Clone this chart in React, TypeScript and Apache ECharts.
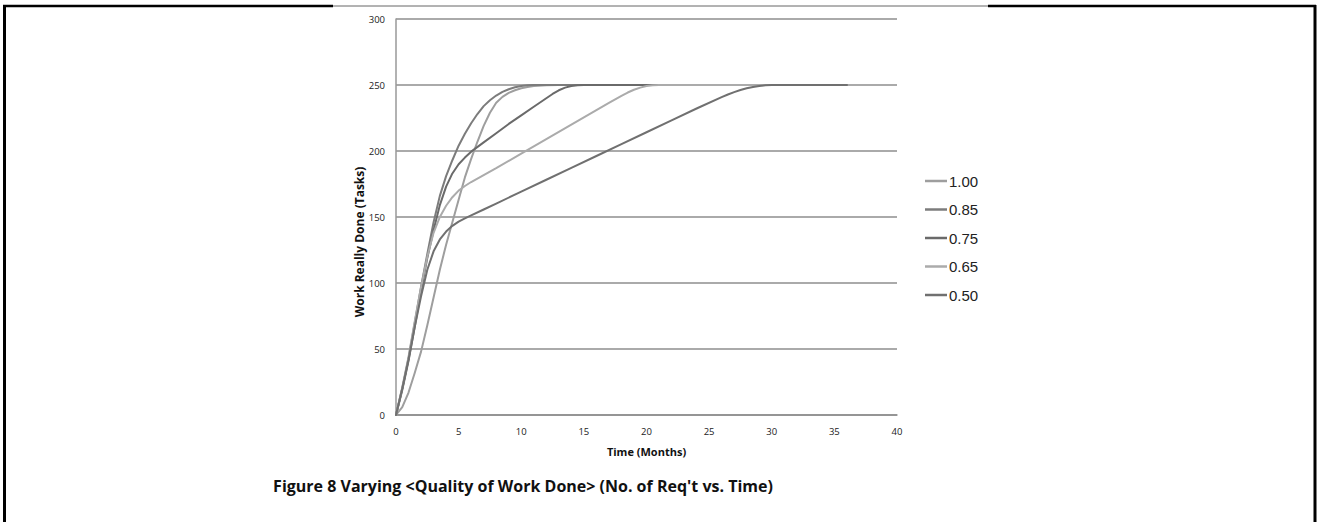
import React, { useEffect, useRef } from "react";
import * as echarts from "echarts";

// Time (months) / Work really done (tasks)
const q100: [number, number][] = [
  [0, 0], [0.5, 6], [1, 17], [1.5, 32], [2, 48], [2.5, 68], [3, 89], [3.5, 110],
  [4, 129], [4.5, 146], [5, 163], [5.5, 180], [6, 194], [6.5, 207], [7, 219],
  [7.5, 229], [8, 236.5], [8.5, 241], [9, 244], [9.5, 246], [10, 247.5], [10.5, 248.5],
  [11, 249.2], [12, 249.8], [13, 250], [36, 250],
];
const q085: [number, number][] = [
  [0, 0], [0.5, 20], [1, 43], [1.5, 70], [2, 97], [2.5, 122], [3, 146], [3.5, 166],
  [4, 181], [4.5, 193], [5, 204], [5.5, 213], [6, 221], [6.5, 228], [7, 234],
  [7.5, 238.5], [8, 242], [8.5, 244.8], [9, 246.8], [9.5, 248.3], [10, 249.3],
  [10.5, 249.8], [11, 250], [36, 250],
];
const q075: [number, number][] = [
  [0, 0], [0.5, 19], [1, 41], [1.5, 67], [2, 94], [2.5, 119], [3, 140], [3.5, 159],
  [4, 173], [4.5, 183], [5, 190], [5.5, 195], [6, 199.5], [7, 206.5], [8, 213.5],
  [9, 220.5], [10, 227], [11, 233.5], [12, 240], [12.5, 243.2], [13, 246], [13.5, 248],
  [14, 249.3], [14.5, 249.8], [15, 250], [36, 250],
];
const q065: [number, number][] = [
  [0, 0], [0.5, 21], [1, 44], [1.5, 71], [2, 97], [2.5, 120], [3, 138], [3.5, 150],
  [4, 158.5], [4.5, 165], [5, 170], [5.5, 173.5], [6, 176.5], [7, 181.8], [8, 187],
  [10, 198], [12, 209], [14, 220], [16, 231], [17, 236.5], [18, 241.8], [18.5, 244.3],
  [19, 246.4], [19.5, 248], [20, 249.2], [20.5, 249.8], [21, 250], [36, 250],
];
const q050: [number, number][] = [
  [0, 0], [0.5, 20], [1, 42], [1.5, 67], [2, 90], [2.5, 110], [3, 124], [3.5, 133],
  [4, 139], [4.5, 143.3], [5, 146.5], [5.5, 149], [6, 151.2], [7, 155.7], [8, 160.2],
  [10, 169.2], [12, 178.2], [14, 187.2], [16, 196.2], [18, 205.2], [20, 214.2],
  [22, 223.2], [24, 232.2], [26, 240.8], [26.5, 242.8], [27, 244.6], [27.5, 246.2],
  [28, 247.5], [28.5, 248.5], [29, 249.3], [29.5, 249.8], [30, 250], [36, 250],
];

const seriesNames = ["1.00", "0.85", "0.75", "0.65", "0.50"];
const seriesData = [q100, q085, q075, q065, q050];
const seriesColors = ["#9e9e9e", "#7c7c7c", "#6a6a6a", "#ababab", "#707070"];

const chartTitle = "Figure 8 Varying <Quality of Work Done> (No. of Req't vs. Time)";
const xTitle = "Time (Months)";
const yTitle = "Work Really Done (Tasks)";

export default function App() {
  const ref = useRef<HTMLDivElement>(null);
  useEffect(() => {
    if (!ref.current) return;
    const chart = echarts.init(ref.current, undefined, { renderer: "svg" });
    const axisFont = "'Open Sans', sans-serif";
    chart.setOption({
      animation: false,
      backgroundColor: "#ffffff",
      grid: { left: 396, right: 422, top: 19, bottom: 107, containLabel: false },
      xAxis: {
        type: "value",
        min: 0,
        max: 40,
        interval: 5,
        name: xTitle,
        nameLocation: "middle",
        nameGap: 31,
        nameTextStyle: { fontFamily: axisFont, fontWeight: "bold", fontSize: 11, color: "#111" },
        axisLine: { show: true, lineStyle: { color: "#8e8e8e", width: 1.5 } },
        axisTick: { show: false },
        axisLabel: { fontFamily: axisFont, fontSize: 9.5, color: "#222", margin: 11 },
        splitLine: { show: false },
      },
      yAxis: {
        type: "value",
        min: 0,
        max: 300,
        interval: 50,
        axisLine: { show: true, lineStyle: { color: "#999999", width: 1.5 } },
        axisTick: { show: false },
        axisLabel: { fontFamily: axisFont, fontSize: 9.5, color: "#222", margin: 11 },
        splitLine: { show: true, lineStyle: { color: "#8e8e8e", width: 1.5 } },
      },
      legend: {
        orient: "vertical",
        left: 920,
        top: 168.5,
        itemGap: 13.5,
        itemWidth: 22,
        itemHeight: 2.5,
        icon: "rect",
        selectedMode: false,
        textStyle: { fontFamily: "'Liberation Sans', Arial, sans-serif", fontSize: 15, color: "#222", padding: [0, 0, 0, -3] },
        data: seriesNames,
      },
      series: seriesNames.map((name, i) => ({
        name,
        type: "line",
        data: seriesData[i],
        showSymbol: false,
        symbol: "none",
        smooth: false,
        color: seriesColors[i],
        lineStyle: { color: seriesColors[i], width: 2, join: "round", cap: "round" },
        z: 3,
      })),
      graphic: [
        { type: "line", shape: { x1: 4.5, y1: 5, x2: 4.5, y2: 522 }, style: { stroke: "#000", lineWidth: 3 } },
        { type: "line", shape: { x1: 1315, y1: 5, x2: 1315, y2: 522 }, style: { stroke: "#000", lineWidth: 3 } },
        { type: "line", shape: { x1: 3, y1: 6, x2: 333, y2: 6 }, style: { stroke: "#000", lineWidth: 2.5 } },
        { type: "line", shape: { x1: 333, y1: 6, x2: 988, y2: 6 }, style: { stroke: "#666", lineWidth: 1 } },
        { type: "line", shape: { x1: 988, y1: 6, x2: 1316, y2: 6 }, style: { stroke: "#000", lineWidth: 2.5 } },
        {
          type: "text",
          x: 359,
          y: 242,
          rotation: Math.PI / 2,
          style: {
            text: yTitle,
            fontFamily: axisFont,
            fontWeight: "bold",
            fontSize: 12,
            fill: "#111",
            align: "center",
            verticalAlign: "middle",
          },
        },
        {
          type: "text",
          x: 523,
          y: 486,
          style: {
            text: chartTitle,
            fontFamily: axisFont,
            fontWeight: "bold",
            fontSize: 16,
            fill: "#111",
            align: "center",
            verticalAlign: "middle",
          },
        },
      ],
    });
    return () => chart.dispose();
  }, []);
  return (
    <div
      ref={ref}
      style={{ position: "fixed", left: 0, top: 0, width: 1319, height: 522, background: "#fff" }}
    />
  );
}
